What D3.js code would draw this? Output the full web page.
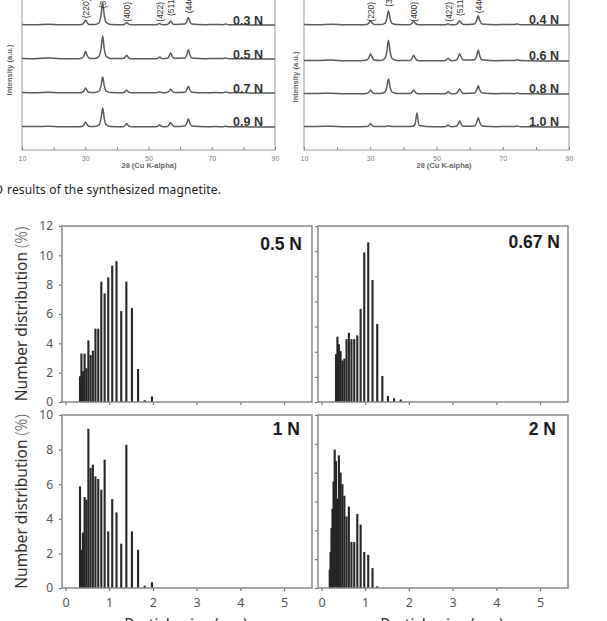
<!DOCTYPE html>
<html><head><meta charset="utf-8">
<script src="https://cdn.jsdelivr.net/npm/d3@7"></script>
<style>body{margin:0;background:#fff}svg{display:block}</style>
</head><body>
<svg id="c" width="607" height="621"></svg>
<script>
// ---------- XRD data (top, partly cropped) ----------
const xrdTheta = [10, 14, 18.3, 22, 27, 28.9, 29.6, 30.1, 30.6, 31.3, 33, 34.4, 35.0, 35.5, 36.0, 36.6, 38, 41.9, 42.6, 43.1, 43.6, 44.1, 44.7, 49, 52.4, 53.0, 53.5, 54.0, 54.6, 55.9, 56.5, 57.0, 57.5, 58.1, 61.5, 62.1, 62.6, 63.1, 63.7, 68, 71.3, 73.5, 74.4, 75.3, 82, 90];
const xrd03 = [0.6, 0.3, 0.8, 0.3, 0.2, 0.6, 2.3, 5, 2.3, 0.6, 0.4, 2.5, 10, 22, 10, 2.6, 0.6, 0.3, 1.1, 2.5, 1.1, 0.4, 0.3, 0.2, 0.3, 0.7, 1.5, 0.7, 0.3, 0.5, 1.8, 4, 1.8, 0.5, 0.9, 3.4, 7.5, 3.4, 0.9, 0.3, 0.5, 0.3, 1, 0.3, 0.1, 0];
const xrd05 = [0.5, 0.3, 1, 0.3, 0.2, 0.8, 3.5, 7.7, 3.5, 0.8, 0.4, 2.8, 10.5, 23, 10.5, 2.8, 0.6, 0.4, 1.7, 3.7, 1.7, 0.5, 0.3, 0.2, 0.3, 0.9, 2, 0.9, 0.3, 0.7, 2.7, 6, 2.7, 0.7, 1.1, 4.2, 9.3, 4.2, 1.1, 0.3, 0.5, 0.4, 1, 0.3, 0.1, 0];
const xrd07 = [0.5, 0.3, 0.8, 0.3, 0.2, 0.6, 2.3, 5, 2.3, 0.6, 0.4, 2, 7.3, 16, 7.3, 1.9, 0.5, 0.3, 1.2, 2.7, 1.2, 0.4, 0.3, 0.2, 0.3, 0.6, 1.3, 0.6, 0.3, 0.5, 1.7, 3.7, 1.7, 0.5, 0.8, 3, 6.7, 3, 0.8, 0.3, 0.4, 0.3, 0.9, 0.3, 0.1, 0];
const xrd09 = [0.6, 0.4, 0.7, 0.3, 0.2, 0.6, 2.3, 5, 2.3, 0.6, 0.4, 2.3, 8.6, 19, 8.6, 2.3, 0.5, 0.3, 1.5, 3.3, 1.5, 0.4, 0.3, 0.2, 0.3, 0.9, 2, 0.9, 0.3, 0.5, 2, 4.3, 2, 0.5, 1, 3.7, 8.3, 3.7, 1, 0.3, 0.4, 0.3, 0.8, 0.3, 0.1, 0];
const xrd04 = [0.4, 0.3, 0.8, 0.3, 0.2, 0.5, 2, 4.3, 2, 0.5, 0.4, 1.7, 6.3, 14, 6.3, 1.7, 0.5, 0.3, 1.7, 3.7, 1.7, 0.4, 0.3, 0.2, 0.3, 0.5, 1, 0.5, 0.3, 0.5, 2, 4.3, 2, 0.5, 1.1, 4.2, 9.3, 4.2, 1.1, 0.3, 0.5, 0.4, 1, 0.3, 0.1, 0];
const xrd06 = [0.5, 0.4, 0.9, 0.3, 0.2, 0.9, 3.3, 7.3, 3.3, 0.9, 0.4, 2.5, 9.3, 20.7, 9.3, 2.5, 0.6, 0.4, 2.6, 5.7, 2.6, 0.7, 0.3, 0.2, 0.3, 1.2, 2.7, 1.2, 0.3, 0.9, 3.3, 7.3, 3.3, 0.9, 1.3, 4.8, 10.7, 4.8, 1.3, 0.3, 0.6, 0.4, 1.3, 0.4, 0.1, 0];
const xrd08 = [0.5, 0.5, 0.8, 0.3, 0.2, 0.5, 1.8, 4, 1.8, 0.5, 0.4, 1.8, 6.8, 15, 6.8, 1.8, 0.6, 0.4, 1.8, 4, 1.8, 0.5, 0.3, 0.2, 0.3, 1, 2.3, 1, 0.3, 0.6, 2.3, 5, 2.3, 0.6, 1, 3.7, 8.3, 3.7, 1, 0.3, 0.5, 0.3, 1, 0.3, 0.1, 0];
const xrd10 = [0.5, 0.6, 0.8, 0.3, 0.3, 0.4, 1.5, 3.3, 1.5, 0.4, 0.4, 0.6, 0.8, 1, 0.8, 0.6, 0.5, 0.6, 0.7, 1, 4, 14, 1.5, 0.2, 0.3, 0.9, 2, 0.9, 0.3, 0.7, 2.7, 6, 2.7, 0.7, 1.1, 4.2, 9.3, 4.2, 1.1, 0.3, 0.5, 0.4, 1, 0.3, 0.1, 0];
const xrdLeftLabels = ["0.3 N", "0.5 N", "0.7 N", "0.9 N"];
const xrdRightLabels = ["0.4 N", "0.6 N", "0.8 N", "1.0 N"];
const xrdLeftOffsets = [125, 91, 57, 23];
const xrdRightOffsets = [125, 89, 56, 23];
const xrdPeakLabels = ["(220)", "(311)", "(400)", "(422)", "(511)", "(440)"];
const xrdPeakPos = [30.1, 35.5, 43.1, 53.5, 57.0, 62.6];
const xrdTickLabels = [10, 30, 50, 70, 90];

// ---------- Particle size distribution data ----------
const sizeBins = [0.210, 0.229, 0.250, 0.273, 0.297, 0.324, 0.354, 0.386, 0.420, 0.459, 0.500, 0.545, 0.595, 0.648, 0.707, 0.771, 0.841, 0.917, 1.000, 1.091, 1.189, 1.297, 1.414, 1.542, 1.682, 1.834, 2.000];
const dist05N  = [0, 0, 0, 0, 0, 0, 1.75, 3.3, 2.1, 3.3, 2.3, 4.2, 3.2, 3.5, 5.0, 5.0, 8.2, 7.4, 8.5, 9.3, 9.6, 6.2, 8.2, 6.4, 2.25, 0.12, 0.38];
const dist067N = [0, 0, 0, 0, 0, 0, 3.8, 5.2, 4.6, 4.05, 3.3, 3.45, 5.0, 5.5, 5.0, 5.0, 5.3, 7.4, 11.9, 12.7, 9.7, 6.2, 2.07, 0.48, 0.3, 0.2, 0];
const dist1N   = [0, 0, 0, 0, 0, 0, 5.87, 2.2, 3.2, 5.26, 5.1, 9.2, 6.94, 7.13, 6.45, 6.3, 5.68, 7.42, 3.27, 5.14, 4.37, 2.56, 8.28, 3.27, 2.21, 0.13, 0.33];
const dist2N   = [1.25, 2.5, 4.15, 5.5, 7.4, 9.6, 8.8, 6.2, 9.2, 8.0, 7.2, 6.4, 4.96, 5.65, 3.2, 3.2, 5.14, 4.4, 2.5, 2.3, 1.38, 0.12, 0, 0, 0, 0, 0];
const panelLabels = ["0.5 N", "0.67 N", "1 N", "2 N"];
const sizeTicks = [0, 1, 2, 3, 4, 5];

const svg = d3.select("#c");

// ================= XRD panels =================
function xrdPanel(x0, x1, sets, offsets, labels, labelX, labelYs, peakBottoms, ylabelPos, titleX) {
  const x = d3.scaleLinear().domain([10, 90]).range([x0, x1]);
  const y = d3.scaleLinear().domain([0, 160]).range([150, -10]);
  const g = svg.append("g");
  g.append("rect").attr("x", x0).attr("y", -10).attr("width", x1 - x0).attr("height", 160)
    .attr("fill", "none").attr("stroke", "#9a9a9a").attr("stroke-width", 1);
  const ax = g.append("g").attr("transform", "translate(0,150)")
    .call(d3.axisBottom(x).tickValues(d3.range(10, 91, 10)).tickSizeInner(-3).tickSizeOuter(0).tickPadding(6)
      .tickFormat(d => xrdTickLabels.includes(d) ? d : ""));
  ax.select(".domain").remove();
  ax.selectAll("line").attr("stroke", "#888");
  ax.selectAll("text").attr("font-family", "Liberation Sans, Arial, sans-serif").attr("font-size", 7).attr("fill", "#777");
  g.append("text").attr("x", titleX).attr("y", 168).attr("text-anchor", "middle")
    .attr("font-family", "Liberation Sans, Arial, sans-serif").attr("font-size", 7.5).attr("font-weight", "bold").attr("fill", "#666")
    .text("2θ (Cu K-alpha)");
  g.append("text").attr("transform", `translate(${ylabelPos[0] + 2.6},${ylabelPos[1]}) rotate(-90)`)
    .attr("text-anchor", "middle").attr("font-family", "Liberation Sans, Arial, sans-serif")
    .attr("font-size", 7.5).attr("font-weight", "bold").attr("fill", "#666").text("Intensity (a.u.)");
  const line = d3.line().x((d, i) => x(xrdTheta[i])).y(d => y(d)).curve(d3.curveMonotoneX);
  sets.forEach((s, k) => {
    g.append("path").datum(s.map(v => v + offsets[k]))
      .attr("d", line)
      .attr("fill", "none").attr("stroke", "#5a5a5a").attr("stroke-width", 1.5);
    g.append("text").attr("x", labelX).attr("y", labelYs[k]).attr("text-anchor", "end")
      .attr("font-family", "Liberation Sans, Arial, sans-serif").attr("font-size", 12.5).attr("font-weight", "bold")
      .attr("fill", "#333").text(labels[k]);
  });
  xrdPeakLabels.forEach((t, k) => {
    g.append("text").attr("transform", `translate(${x(xrdPeakPos[k]) + 3.5},${peakBottoms[k]}) rotate(-90)`)
      .attr("font-family", "Liberation Sans, Arial, sans-serif").attr("font-size", 8.5).attr("fill", "#333").text(t);
  });
}
xrdPanel(22, 275, [xrd03, xrd05, xrd07, xrd09], xrdLeftOffsets, xrdLeftLabels, 263, [25, 59, 93, 126],
  [18.3, 8.3, 21.7, 21.7, 16, 13.3], [9.5, 70], 149);
xrdPanel(304, 569, [xrd04, xrd06, xrd08, xrd10], xrdRightOffsets, xrdRightLabels, 559, [24, 60, 93, 126],
  [21.7, 6.7, 21.7, 21.7, 16, 13.3], [295, 77], 444);

// caption (cropped on the left)
svg.append("text").attr("x", 3).attr("y", 194).attr("text-anchor", "end")
  .attr("font-family", "Noto Sans, sans-serif").attr("font-size", 12).attr("fill", "#222").text("XRD");
svg.append("text").attr("x", 7).attr("y", 194).attr("textLength", 214).attr("lengthAdjust", "spacing")
  .attr("font-family", "Noto Sans, sans-serif").attr("font-size", 12).attr("fill", "#222")
  .text("results of the synthesized magnetite.");

// ================= Histogram panels =================
const panels = [
  { data: dist05N,  yMax: 12, x0: 62,  x1: 312, y0: 226, y1: 402, yLab: true,  xLab: false, lx: 302, ly: 250 },
  { data: dist067N, yMax: 14, x0: 318, x1: 568, y0: 226, y1: 402, yLab: false, xLab: false, lx: 560, ly: 248 },
  { data: dist1N,   yMax: 10, x0: 62,  x1: 312, y0: 415, y1: 588, yLab: true,  xLab: true,  lx: 300, ly: 435 },
  { data: dist2N,   yMax: 12, x0: 318, x1: 568, y0: 415, y1: 588, yLab: false, xLab: true,  lx: 556, ly: 435 }
];
const tickFont = "Noto Sans, Open Sans, sans-serif";
panels.forEach((p, k) => {
  const x = d3.scaleLinear().domain([-0.08, 5.64]).range([p.x0, p.x1]);
  const y = d3.scaleLinear().domain([0, p.yMax]).range([p.y1, p.y0]);
  const g = svg.append("g");
  const bars = sizeBins.map((b, i) => ({ b, v: p.data[i] })).filter(d => d.v > 0);
  g.selectAll("rect.bar").data(bars).join("rect").attr("class", "bar")
    .attr("x", d => x(d.b) - 2.0).attr("width", 2.1)
    .attr("y", d => y(d.v)).attr("height", d => p.y1 - y(d.v))
    .attr("fill", "#262626");
  const xa = g.append("g").attr("transform", `translate(0,${p.y1})`)
    .call(d3.axisBottom(x).tickValues(sizeTicks).tickSize(3).tickPadding(7)
      .tickFormat(p.xLab ? d3.format("d") : ""));
  xa.select(".domain").remove();
  xa.selectAll("line").attr("stroke", "#777").attr("stroke-width", 1.2);
  xa.selectAll("text").attr("font-family", tickFont).attr("font-size", 12.5).attr("fill", "#555");
  const ya = g.append("g").attr("transform", `translate(${p.x0},0)`)
    .call(d3.axisLeft(y).tickValues(d3.range(0, p.yMax + 1, 2)).tickSize(3).tickPadding(6)
      .tickFormat(p.yLab ? d3.format("d") : ""));
  ya.select(".domain").remove();
  ya.selectAll("line").attr("stroke", "#777").attr("stroke-width", 1.2);
  ya.selectAll("text").attr("font-family", tickFont).attr("font-size", 12).attr("fill", "#555");
  g.append("rect").attr("x", p.x0).attr("y", p.y0).attr("width", p.x1 - p.x0).attr("height", p.y1 - p.y0)
    .attr("fill", "none").attr("stroke", "#808080").attr("stroke-width", 1.4);
  g.append("text").attr("x", p.lx).attr("y", p.ly).attr("text-anchor", "end")
    .attr("font-family", "Liberation Sans, Arial, sans-serif").attr("font-size", 17.5).attr("font-weight", "bold")
    .attr("fill", "#1a1a1a").text(panelLabels[k]);
  if (p.yLab) {
    const t = g.append("text").attr("transform", `translate(${26.5},${(p.y0 + p.y1) / 2}) rotate(-90)`)
      .attr("text-anchor", "middle").attr("font-family", tickFont).attr("font-size", 15.5).attr("fill", "#333");
    t.append("tspan").text("Number distribution ");
    t.append("tspan").attr("fill", "#666").attr("font-weight", 300).text("(%)");
  }
  if (p.xLab) {
    g.append("text").attr("x", (p.x0 + p.x1) / 2 - 1).attr("y", 629.5).attr("text-anchor", "middle")
      .attr("font-family", tickFont).attr("font-size", 15.5).attr("fill", "#333").text("Particle size (μm)");
  }
});
</script>
</body></html>
